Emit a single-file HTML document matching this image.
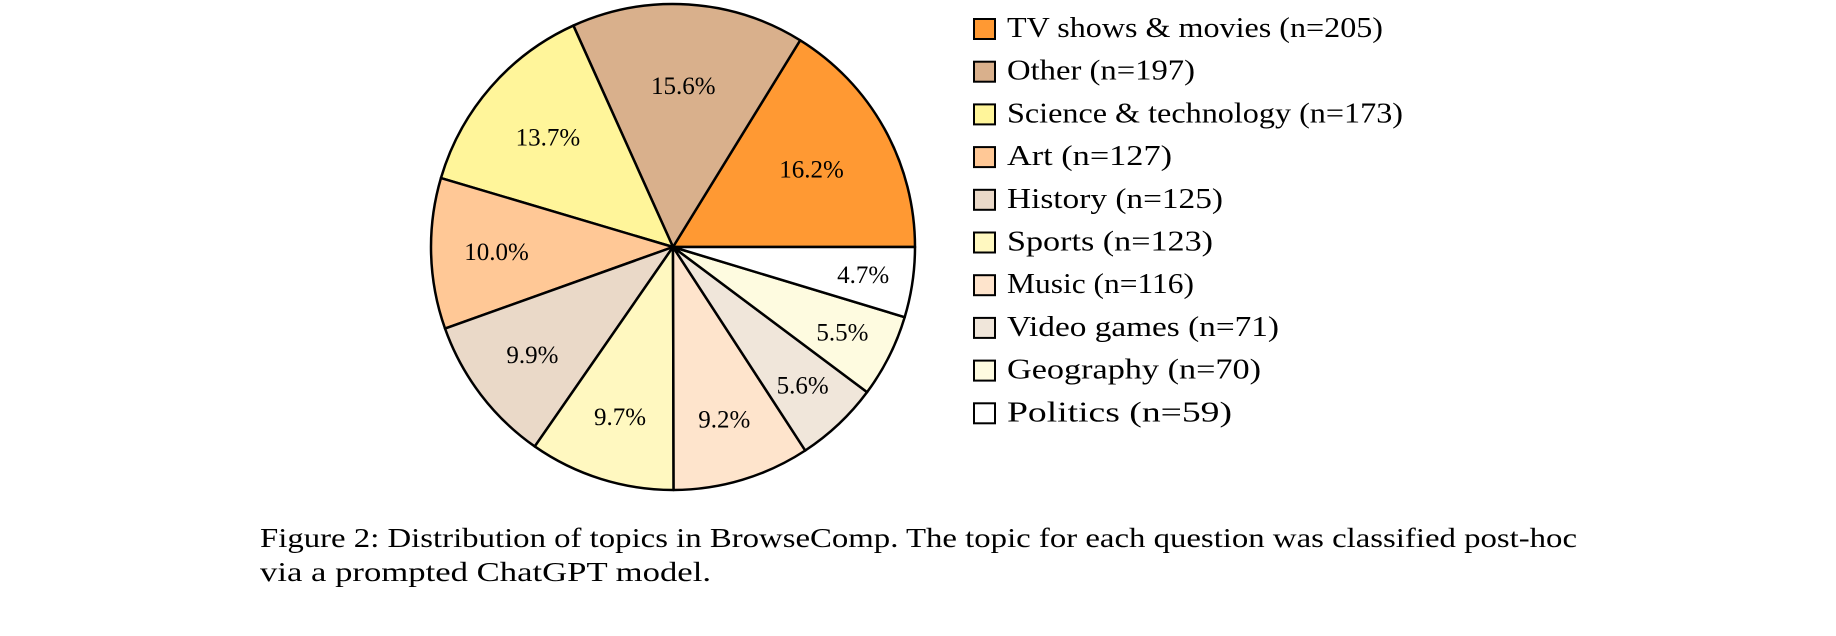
<!DOCTYPE html>
<html><head><meta charset="utf-8"><style>
html,body{margin:0;padding:0;background:#fff;}
svg{display:block;font-family:"Liberation Serif",serif;}
</style></head><body>
<svg id="chart" width="1836" height="636" viewBox="0 0 1836 636">
<g id="pie"></g>
<g id="legend"></g>
<text x="260" y="547" font-size="27" textLength="1317" lengthAdjust="spacingAndGlyphs">Figure 2: Distribution of topics in BrowseComp. The topic for each question was classified post-hoc</text>
<text x="260" y="581" font-size="27" textLength="451" lengthAdjust="spacingAndGlyphs">via a prompted ChatGPT model.</text>
</svg>
<script>
const categories = ["TV shows & movies","Other","Science & technology","Art","History","Sports","Music","Video games","Geography","Politics"];
const counts = [205,197,173,127,125,123,116,71,70,59];
const colors = ["#ff9933","#d9b08c","#fff59a","#ffc896","#ead9c8","#fff8c0","#fee4cc","#f0e6da","#fefbe0","#ffffff"];
const legendWidths = [376,188,396,165,216,206,187,272,254,225];

const NS="http://www.w3.org/2000/svg";
const cx=673, cy=247, rx=242, ry=243;
const total=counts.reduce((a,b)=>a+b,0);
const pie=document.getElementById('pie');
const lg=document.getElementById('legend');
function pt(a,f){return [cx+Math.cos(a)*rx*f, cy-Math.sin(a)*ry*f];}
let cum=0;
counts.forEach((c,i)=>{
  const a0=cum/total*2*Math.PI; cum+=c; const a1=cum/total*2*Math.PI;
  const p0=pt(a0,1), p1=pt(a1,1);
  const large=(a1-a0)>Math.PI?1:0;
  const path=document.createElementNS(NS,'path');
  path.setAttribute('d',`M${cx},${cy} L${p0[0]},${p0[1]} A${rx},${ry} 0 ${large} 0 ${p1[0]},${p1[1]} Z`);
  path.setAttribute('fill',colors[i]);
  path.setAttribute('stroke','#000');
  path.setAttribute('stroke-width','2.5');
  path.setAttribute('stroke-linejoin','round');
  
  
  pie.appendChild(path);
});
cum=0;
counts.forEach((c,i)=>{
  const am=(cum+c/2)/total*2*Math.PI; cum+=c;
  const pct=c/total*100;
  const f=Math.min(0.8,0.85-0.012*pct);
  const p=pt(am,f);
  const t=document.createElementNS(NS,'text');
  t.setAttribute('x',p[0]); t.setAttribute('y',p[1]+8);
  t.setAttribute('text-anchor','middle');
  t.setAttribute('font-size','25');
  t.textContent=pct.toFixed(1)+'%';
  
  
  pie.appendChild(t);
});
categories.forEach((name,i)=>{
  const y=19+i*42.7;
  const r=document.createElementNS(NS,'rect');
  r.setAttribute('x',974); r.setAttribute('y',y);
  r.setAttribute('width',21); r.setAttribute('height',20);
  r.setAttribute('fill',colors[i]); r.setAttribute('stroke','#000'); r.setAttribute('stroke-width','2');
  
  
  lg.appendChild(r);
  const t=document.createElementNS(NS,'text');
  t.setAttribute('x',1007); t.setAttribute('y',y+18);
  t.setAttribute('font-size','28');
  t.setAttribute('textLength',legendWidths[i]);
  t.setAttribute('lengthAdjust','spacingAndGlyphs');
  t.textContent=name+' (n='+counts[i]+')';
  
  
  lg.appendChild(t);
});
</script>
</body></html>
